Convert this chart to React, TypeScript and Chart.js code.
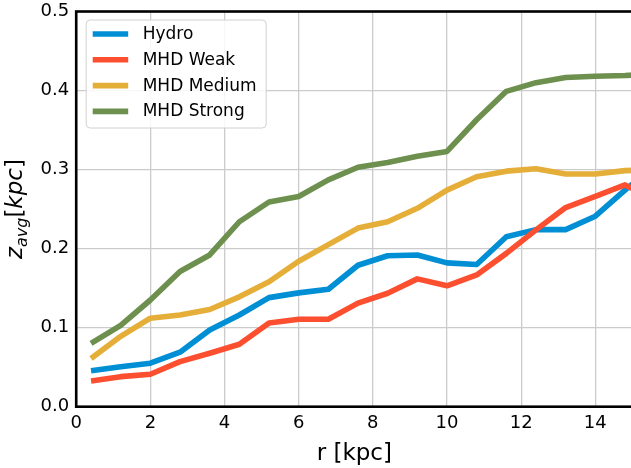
import React, { useEffect, useRef } from "react";
import { Chart, registerables } from "chart.js";

Chart.register(...registerables);

const radius = [0.4, 1.2, 2.0, 2.8, 3.6, 4.4, 5.2, 6.0, 6.8, 7.6, 8.4, 9.2, 10.0, 10.8, 11.6, 12.4, 13.2, 14.0, 14.8, 15.6];
const hydro = [0.0456, 0.0506, 0.055, 0.069, 0.097, 0.116, 0.138, 0.144, 0.1486, 0.179, 0.191, 0.192, 0.182, 0.18, 0.215, 0.224, 0.224, 0.241, 0.274, 0.305];
const mhdWeak = [0.0325, 0.038, 0.041, 0.057, 0.0676, 0.079, 0.106, 0.1106, 0.1106, 0.131, 0.1435, 0.1617, 0.153, 0.1667, 0.194, 0.2237, 0.252, 0.266, 0.2806, 0.262];
const mhdMedium = [0.061, 0.089, 0.112, 0.116, 0.123, 0.139, 0.158, 0.184, 0.205, 0.226, 0.234, 0.251, 0.274, 0.291, 0.298, 0.301, 0.2945, 0.2945, 0.2987, 0.3];
const mhdStrong = [0.08, 0.103, 0.135, 0.171, 0.192, 0.234, 0.259, 0.266, 0.287, 0.303, 0.309, 0.317, 0.323, 0.363, 0.399, 0.41, 0.4165, 0.418, 0.419, 0.421];

const seriesLabels = ["Hydro", "MHD Weak", "MHD Medium", "MHD Strong"];
const seriesColors = ["#008fd5", "#fc4f30", "#e5ae38", "#6d904f"];

const xMin = 0;
const xMax = 15;
const xStep = 2;
const yMin = 0;
const yMax = 0.5;
const yStep = 0.1;
const xTitle = "r [kpc]";

const FONT = '"DejaVu Sans", sans-serif';

const decor = {
  id: "decor",
  afterDatasetsDraw(chart: any) {
    const { ctx, chartArea: a } = chart;
    const bx = a.left + 10, by = a.top + 8.5, bw = 180, bh = 108, r = 4;
    ctx.save();
    ctx.beginPath();
    ctx.moveTo(bx + r, by);
    ctx.lineTo(bx + bw - r, by);
    ctx.arcTo(bx + bw, by, bx + bw, by + r, r);
    ctx.lineTo(bx + bw, by + bh - r);
    ctx.arcTo(bx + bw, by + bh, bx + bw - r, by + bh, r);
    ctx.lineTo(bx + r, by + bh);
    ctx.arcTo(bx, by + bh, bx, by + bh - r, r);
    ctx.lineTo(bx, by + r);
    ctx.arcTo(bx, by, bx + r, by, r);
    ctx.closePath();
    ctx.fillStyle = "rgba(255,255,255,0.85)";
    ctx.fill();
    ctx.strokeStyle = "#d0d0d0";
    ctx.lineWidth = 1;
    ctx.stroke();
    chart.data.datasets.forEach((ds: any, i: number) => {
      const y = by + 14 + i * 25.8;
      ctx.beginPath();
      ctx.moveTo(bx + 6.5, y);
      ctx.lineTo(bx + 42, y);
      ctx.strokeStyle = ds.borderColor;
      ctx.lineWidth = 5.6;
      ctx.lineCap = "butt";
      ctx.stroke();
      ctx.fillStyle = "#000";
      ctx.font = `17px ${FONT}`;
      ctx.textBaseline = "middle";
      ctx.textAlign = "left";
      ctx.fillText(ds.label, bx + 56.5, y + 0.5);
    });
    ctx.restore();
  },
  afterDraw(chart: any) {
    const { ctx, chartArea: a } = chart;
    ctx.save();
    ctx.strokeStyle = "#000";
    ctx.lineWidth = 2.6;
    ctx.strokeRect(a.left, a.top, a.right - a.left, a.bottom - a.top);
    ctx.fillStyle = "#000";
    ctx.font = `23px ${FONT}`;
    ctx.textAlign = "center";
    ctx.textBaseline = "alphabetic";
    ctx.fillText(xTitle, (a.left + a.right) / 2, 459.5);
    const parts = [
      { t: "z", f: `italic 23px ${FONT}`, dy: 0 },
      { t: "avg", f: `italic 16px ${FONT}`, dy: 4.5 },
      { t: "[", f: `23px ${FONT}`, dy: 0 },
      { t: "kpc", f: `italic 23px ${FONT}`, dy: 0 },
      { t: "]", f: `23px ${FONT}`, dy: 0 },
    ];
    let total = 0;
    const widths = parts.map((p) => {
      ctx.font = p.f;
      const w = ctx.measureText(p.t).width;
      total += w;
      return w;
    });
    ctx.translate(22, (a.top + a.bottom) / 2);
    ctx.rotate(-Math.PI / 2);
    ctx.textAlign = "left";
    let x = -total / 2;
    parts.forEach((p, i) => {
      ctx.font = p.f;
      ctx.fillText(p.t, x, p.dy);
      x += widths[i];
    });
    ctx.restore();
  },
};

export default function App() {
  const ref = useRef<HTMLCanvasElement>(null);
  useEffect(() => {
    document.body.style.margin = "0";
    const canvas = ref.current!;
    const values = [hydro, mhdWeak, mhdMedium, mhdStrong];
    const datasets = values.map((v, i) => ({
      label: seriesLabels[i],
      data: radius.map((r, j) => ({ x: r, y: v[j] })),
      borderColor: seriesColors[i],
      backgroundColor: seriesColors[i],
      borderWidth: 5.6,
      pointRadius: 0,
      tension: 0,
      fill: false,
      order: 4 - i,
      borderJoinStyle: "round" as const,
      borderCapStyle: "butt" as const,
      clip: 0,
    }));
    const chart = new Chart(canvas, {
      type: "line",
      data: { datasets },
      options: {
        responsive: false,
        animation: false,
        devicePixelRatio: 1,
        layout: { padding: { top: 11.5, right: 1.6, left: 0, bottom: 0 } },
        plugins: { legend: { display: false }, tooltip: { enabled: false } },
        scales: {
          x: {
            type: "linear",
            min: xMin,
            max: xMax,
            afterFit: (s: any) => {
              s.height = 61.3;
              s.paddingLeft = 0;
              s.paddingRight = 0;
            },
            ticks: {
              stepSize: xStep,
              includeBounds: false,
              color: "#000",
              font: { family: FONT, size: 18 },
              padding: 6,
              maxRotation: 0,
            },
            grid: { color: "#cbcbcb", lineWidth: 1.3, drawTicks: false },
            border: { display: false },
          },
          y: {
            type: "linear",
            min: yMin,
            max: yMax,
            afterFit: (s: any) => {
              s.width = 76.2;
              s.paddingTop = 0;
              s.paddingBottom = 0;
            },
            ticks: {
              stepSize: yStep,
              color: "#000",
              font: { family: FONT, size: 18 },
              padding: 7,
              callback: (v: any) => Number(v).toFixed(1),
            },
            grid: { color: "#cbcbcb", lineWidth: 1.3, drawTicks: false },
            border: { display: false },
          },
        },
      },
      plugins: [decor],
    });
    return () => chart.destroy();
  }, []);
  return (
    <div style={{ width: 631, height: 468, overflow: "hidden" }}>
      <canvas ref={ref} width={634} height={468} style={{ display: "block" }} />
    </div>
  );
}
